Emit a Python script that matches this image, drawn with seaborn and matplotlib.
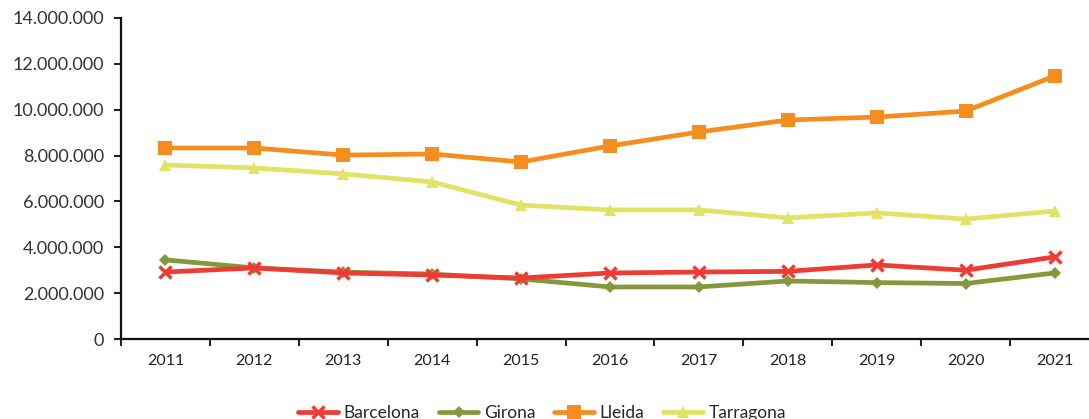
import matplotlib
matplotlib.use("Agg")
import matplotlib.pyplot as plt
import matplotlib.ticker as mticker
import seaborn as sns
import pandas as pd

# dades llegides del gràfic original
years = [2011, 2012, 2013, 2014, 2015, 2016, 2017, 2018, 2019, 2020, 2021]
barcelona = [2920000, 3100000, 2880000, 2790000, 2660000, 2880000, 2920000, 2950000, 3230000, 3000000, 3580000]
girona = [3450000, 3100000, 2920000, 2830000, 2620000, 2270000, 2270000, 2530000, 2460000, 2420000, 2880000]
lleida = [8330000, 8330000, 8020000, 8070000, 7720000, 8420000, 9030000, 9550000, 9680000, 9940000, 11470000]
tarragona = [7590000, 7460000, 7200000, 6850000, 5840000, 5630000, 5630000, 5280000, 5500000, 5230000, 5580000]

series = {
    "Barcelona": barcelona,
    "Girona": girona,
    "Lleida": lleida,
    "Tarragona": tarragona,
}
colors = {"Barcelona": "#EE3B33", "Girona": "#83993C", "Lleida": "#F68E1F", "Tarragona": "#E0E363"}
markers = {"Barcelona": "x", "Girona": "D", "Lleida": "s", "Tarragona": "^"}
msizes = {"Barcelona": 9, "Girona": 6, "Lleida": 9.5, "Tarragona": 8}
zorders = {"Barcelona": 5, "Girona": 4, "Lleida": 3, "Tarragona": 2}

rows = []
for name, vals in series.items():
    for y, v in zip(years, vals):
        rows.append({"any": y, "valor": v, "provincia": name})
df = pd.DataFrame(rows)

sns.set_style("white")
plt.rcParams["font.family"] = ["Lato", "DejaVu Sans"]

fig = plt.figure(figsize=(10.89, 4.19), dpi=100)
ax = fig.add_axes([121 / 1089, 80 / 419, 978 / 1089, 321 / 419])

for name in series:
    sub = df[df["provincia"] == name]
    sns.lineplot(data=sub, x="any", y="valor", ax=ax, color=colors[name],
                 marker=markers[name], markersize=msizes[name], linewidth=3.4,
                 markeredgewidth=2.5 if name == "Barcelona" else 0,
                 markeredgecolor=colors[name], label=name, zorder=zorders[name])

ax.set_xlim(2010.5, 2021.5)
ax.set_ylim(0, 14000000)
ax.yaxis.set_major_locator(mticker.MultipleLocator(2000000))
ax.yaxis.set_major_formatter(mticker.FuncFormatter(lambda v, p: f"{int(v):,}".replace(",", ".")))

ax.set_xticks([y - 0.5 for y in years] + [2021.5])
ax.set_xticklabels([])
ax.set_xticks(years, minor=True)
ax.set_xticklabels([str(y) for y in years], minor=True)
ax.tick_params(axis="x", which="major", length=5, width=1.5, color="#222222", direction="out", bottom=True)
ax.tick_params(axis="x", which="minor", length=0, pad=11, labelsize=11.5, labelcolor="#222222")
ax.tick_params(axis="y", length=5, width=1.5, color="#222222", direction="out", left=True,
               pad=7, labelsize=13, labelcolor="#333333")

for s in ["top", "right"]:
    ax.spines[s].set_visible(False)
for s in ["left", "bottom"]:
    ax.spines[s].set_color("#111111")
    ax.spines[s].set_linewidth(1.6)

ax.set_xlabel("")
ax.set_ylabel("")
ax.legend(loc="center", bbox_to_anchor=(542 / 1089, 6 / 419), bbox_transform=fig.transFigure,
          ncol=4, frameon=False, fontsize=12.5, handlelength=2.3, columnspacing=1.1, handletextpad=0.3)

fig.savefig("out.png", dpi=100)
plt.close(fig)
